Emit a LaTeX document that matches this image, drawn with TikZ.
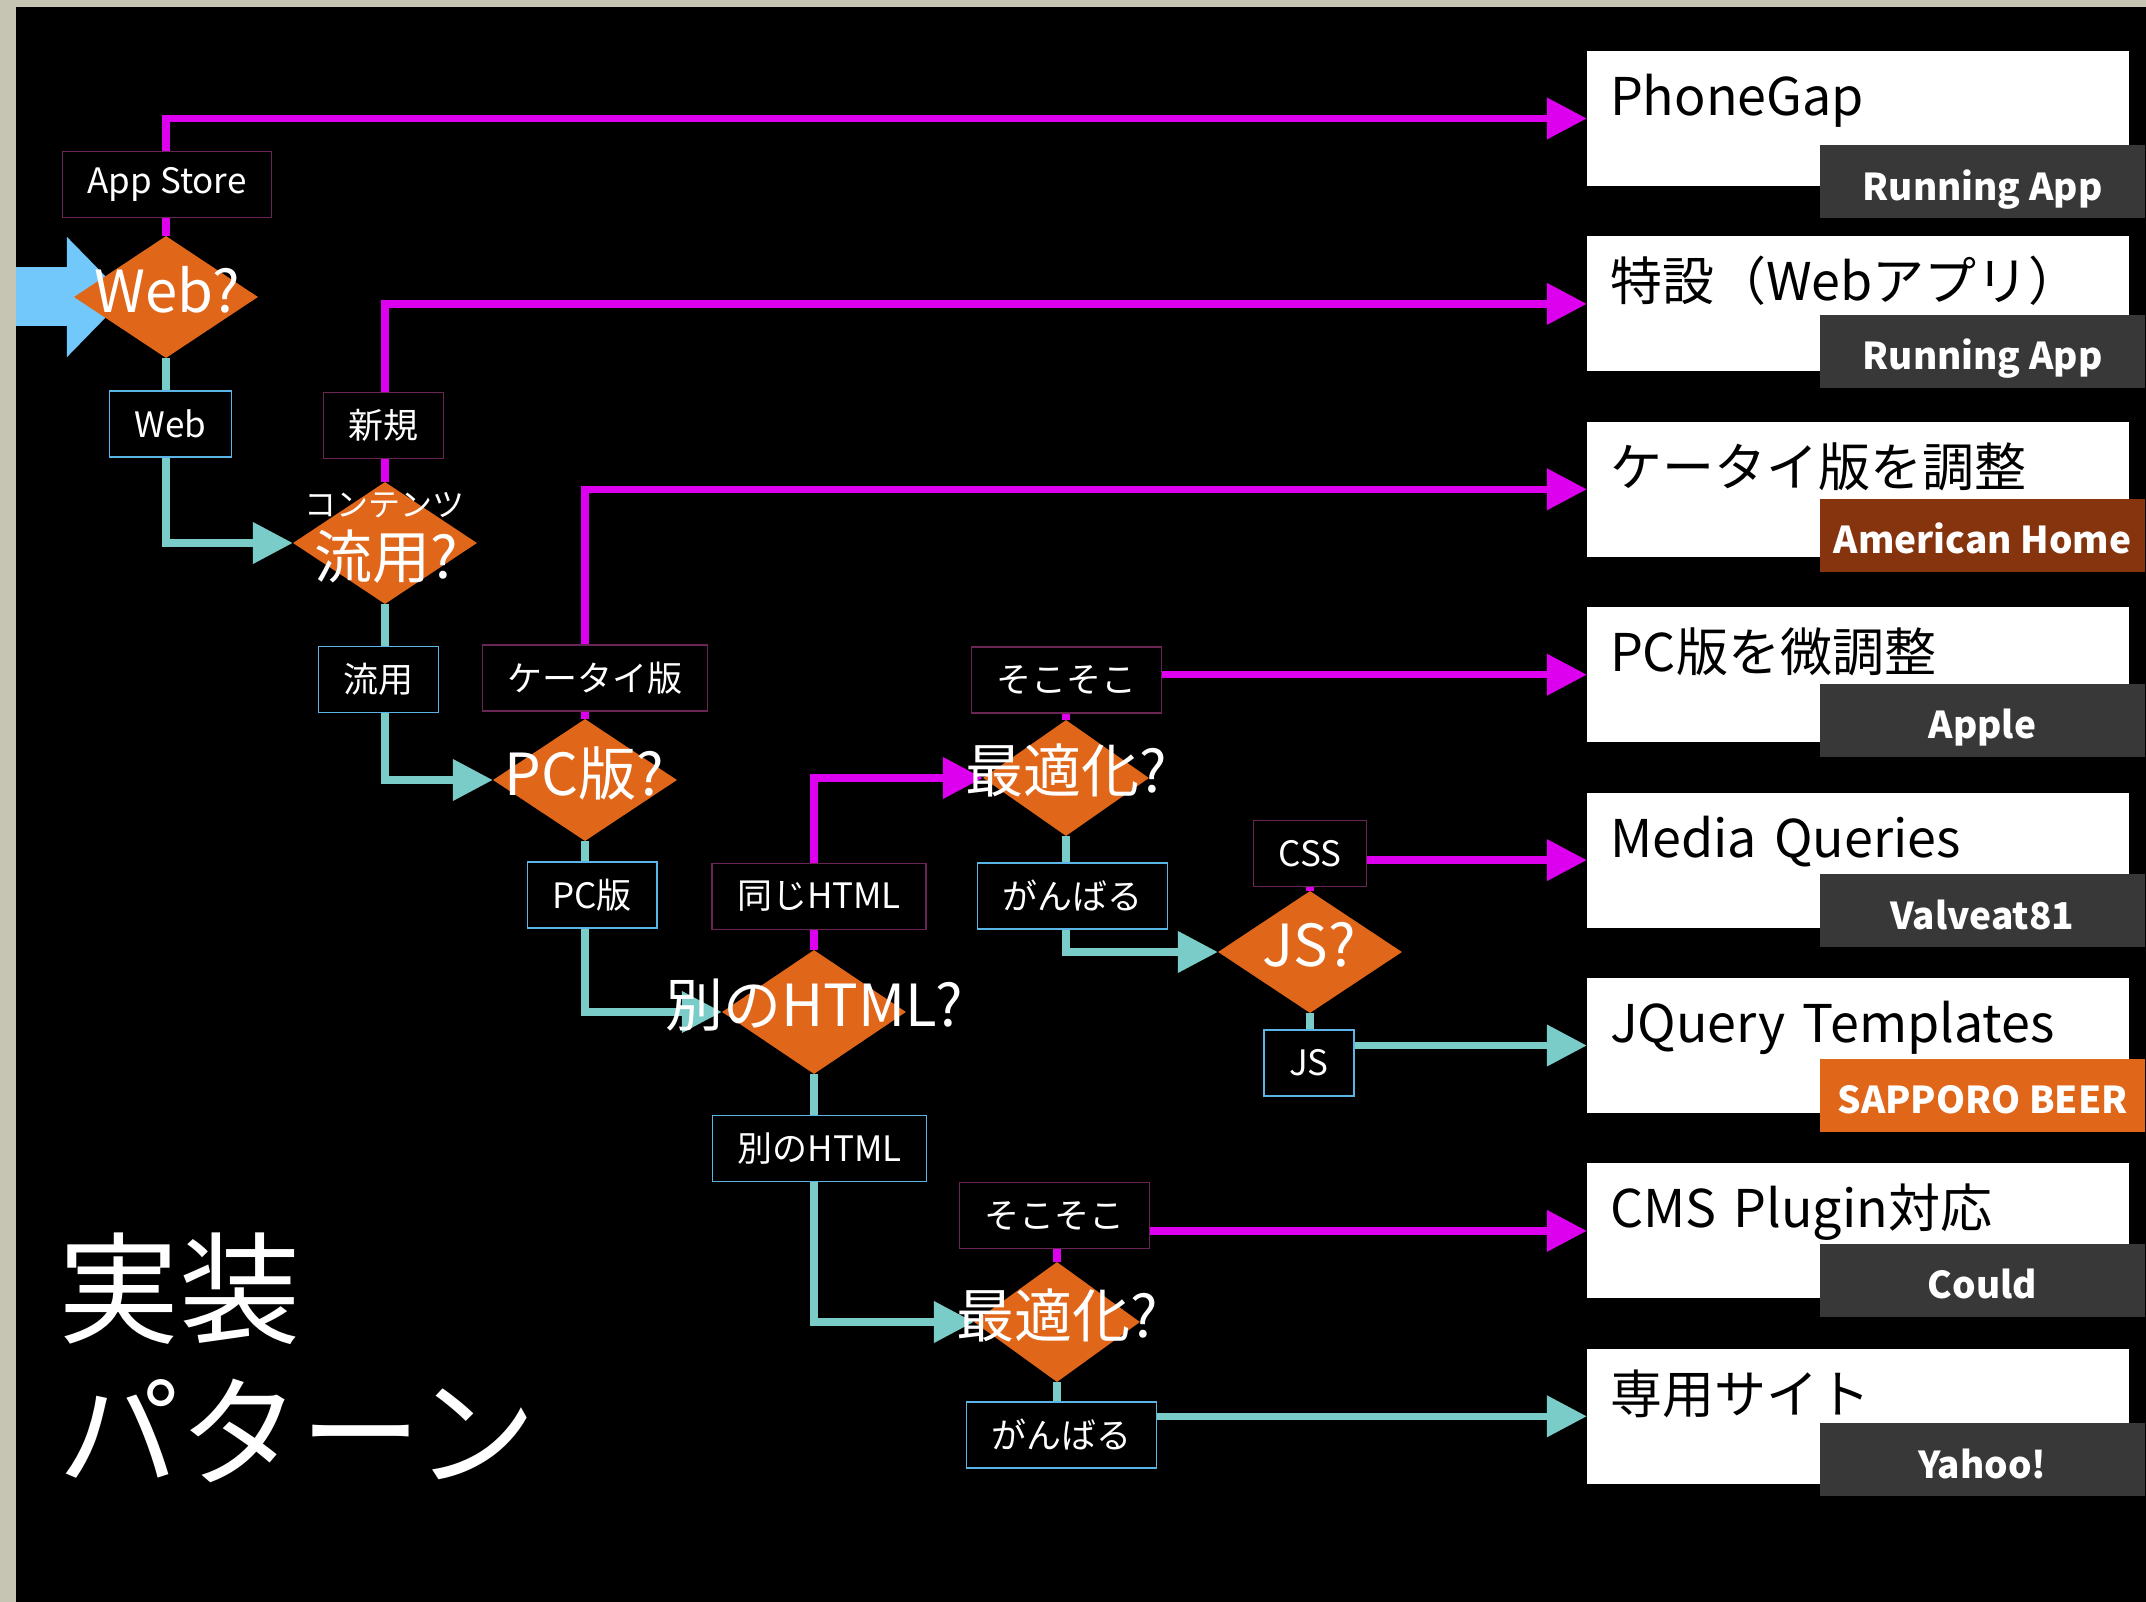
\documentclass[tikz,border=0pt]{standalone}
\usepackage{fontspec}
\setmainfont{Noto Sans CJK JP}
\usepackage{tikz}
\usetikzlibrary{arrows.meta,shapes.geometric,positioning,backgrounds}
\definecolor{framegray}{HTML}{C6C4B3}
\definecolor{flowpink}{HTML}{DD00EE}
\definecolor{flowteal}{HTML}{7ACCC8}
\definecolor{flowblue}{HTML}{72C8FA}
\definecolor{flowor}{HTML}{E0661A}
\definecolor{edgepink}{HTML}{6B2555}
\definecolor{edgeblue}{HTML}{5AB4E6}
\definecolor{tagdark}{HTML}{383838}
\definecolor{tagbrown}{HTML}{86340E}

\begin{document}
\begin{tikzpicture}[x=1pt,y=-1pt,
    decision/.style={diamond,fill=flowor,inner sep=0pt,minimum width=184pt,minimum height=122pt},
    qtext/.style={text=white,inner sep=0pt,font=\fontsize{58}{60}\selectfont},
    branch/.style={fill=black,text=white,line width=1.5pt,inner xsep=25pt,inner ysep=0pt,
      minimum height=66pt,font=\fontsize{35}{37}\selectfont},
    branchup/.style={branch,draw=edgepink},
    branchdown/.style={branch,draw=edgeblue},
    result/.style={fill=white,text=black,inner xsep=23pt,inner ysep=0pt,text width=496pt,
      align=left,minimum height=135pt,text height=38pt,text depth=44pt,font=\fontsize{52}{56}\selectfont},
    tag/.style={fill=tagdark,text=white,inner sep=0pt,minimum width=325pt,minimum height=73pt,
      text height=40pt,text depth=3pt,font=\bfseries\fontsize{37}{40}\selectfont},
    pinkflow/.style={draw=flowpink,line width=7.5pt,-{Triangle[length=40pt,width=40pt]}},
    tealflow/.style={draw=flowteal,line width=7.5pt,-{Triangle[length=40pt,width=40pt]}},
    entryarrow/.style={draw=flowblue,line width=59pt,-{Triangle[length=59pt,width=117pt]}}]
  \useasboundingbox (0,0) rectangle (2146,1602);
  \node[result] (phonegap) at (1858,118.5) {PhoneGap};
  \node[result,below=50pt of phonegap] (tokusetsu) {特設（Webアプリ）};
  \node[result,below=50pt of tokusetsu] (keitaiadj) {ケータイ版を調整};
  \node[result,below=50pt of keitaiadj] (pcadj) {PC版を微調整};
  \node[result,below=50pt of pcadj] (mediaq) {Media Queries};
  \node[result,below=50pt of mediaq] (jqtmpl) {JQuery Templates};
  \node[result,below=50pt of jqtmpl] (cmsplug) {CMS Plugin対応};
  \node[result,below=50pt of cmsplug] (senyou) {専用サイト};
  \node[tag] (phonegaptag) at (1982.5,182) {Running App};
  \node[tag] (tokusetsutag) at (1982.5,351.5) {Running App};
  \node[tag,fill=tagbrown] (keitaiadjtag) at (1982.5,535) {American Home};
  \node[tag] (pcadjtag) at (1982.5,720) {Apple};
  \node[tag] (mediaqtag) at (1982.5,910.5) {Valveat81};
  \node[tag,fill=flowor] (jqtmpltag) at (1982.5,1095) {SAPPORO BEER};
  \node[tag] (cmsplugtag) at (1982.5,1280) {Could};
  \node[tag] (senyoutag) at (1982.5,1459.5) {Yahoo!};
  \node[decision] (webq) at (166,297) {};
  \node[decision] (ryuyouq) at (385,543) {};
  \node[decision] (pcq) at (585,780) {};
  \node[decision,minimum height=124pt] (htmlq) at (814,1012) {};
  \node[decision,minimum width=166pt,minimum height=116pt] (opt1q) at (1066,778) {};
  \node[decision] (jsq) at (1310,952) {};
  \node[decision,minimum width=166pt,minimum height=120pt] (opt2q) at (1057,1322) {};
  \node[branchup] (appstore) at (167,184.5) {App Store};
  \node[branchdown] (web) at (170.5,424) {Web};
  \node[branchup] (shinki) at (383.5,425.5) {新規};
  \node[branchdown] (ryuyou) at (378.5,679.5) {流用};
  \node[branchup] (keitai) at (595,678) {ケータイ版};
  \node[branchdown] (pcban) at (592,895) {PC版};
  \node[branchup] (samehtml) at (819,896.5) {同じHTML};
  \node[branchdown] (otherhtml) at (819.5,1148.5) {別のHTML};
  \node[branchup] (soko1) at (1066.5,680) {そこそこ};
  \node[branchdown] (ganba1) at (1072.5,896) {がんばる};
  \node[branchup] (css) at (1310,853.5) {CSS};
  \node[branchdown] (js) at (1309,1063) {JS};
  \node[branchup] (soko2) at (1054.5,1215.5) {そこそこ};
  \node[branchdown] (ganba2) at (1061.5,1435) {がんばる};
  \node[qtext] (webqt) at (167,290) {Web?};
  \node[qtext,font=\fontsize{32}{34}\selectfont] (contents) at (384,505) {コンテンツ};
  \node[qtext] (ryuyouqt) at (386,557) {流用?};
  \node[qtext] (pcqt) at (584,773) {PC版?};
  \node[qtext] (htmlqt) at (814,1005) {別のHTML?};
  \node[qtext] (opt1qt) at (1066,770) {最適化?};
  \node[qtext] (jsqt) at (1309,945) {JS?};
  \node[qtext] (opt2qt) at (1057,1315) {最適化?};
  \node[text=white,inner sep=0pt,align=left,anchor=north west,font=\fontsize{121}{143}\selectfont]
    (pattern) at (58,1233) {実装\\パターン};
  \coordinate (entry) at (16,297);
  \begin{scope}[on background layer]
    \fill[framegray] (0,0) rectangle (2146,1602);
    \fill[black] (16,7) rectangle (2146,1602);
    \draw[entryarrow] (entry) -- ([xshift=52pt]webq.west);
    \draw[pinkflow] (webq.north) |- (phonegap.west);
    \draw[tealflow] (webq.south) |- (ryuyouq.west);
    \draw[pinkflow] (ryuyouq.north) |- (tokusetsu.west);
    \draw[tealflow] (ryuyouq.south) |- (pcq.west);
    \draw[pinkflow] (pcq.north) |- (keitaiadj.west);
    \draw[tealflow] (pcq.south) |- (htmlq.west);
    \draw[pinkflow] (htmlq.north) |- (opt1q.west);
    \draw[tealflow] (htmlq.south) |- (opt2q.west);
    \draw[pinkflow] (opt1q.north) |- (pcadj.west);
    \draw[tealflow] (opt1q.south) |- (jsq.west);
    \draw[pinkflow] (jsq.north) |- (mediaq.west);
    \draw[tealflow] (jsq.south) |- (jqtmpl.west);
    \draw[pinkflow] (opt2q.north) |- (cmsplug.west);
    \draw[tealflow] (opt2q.south) |- (senyou.west);
  \end{scope}
\end{tikzpicture}
\end{document}
